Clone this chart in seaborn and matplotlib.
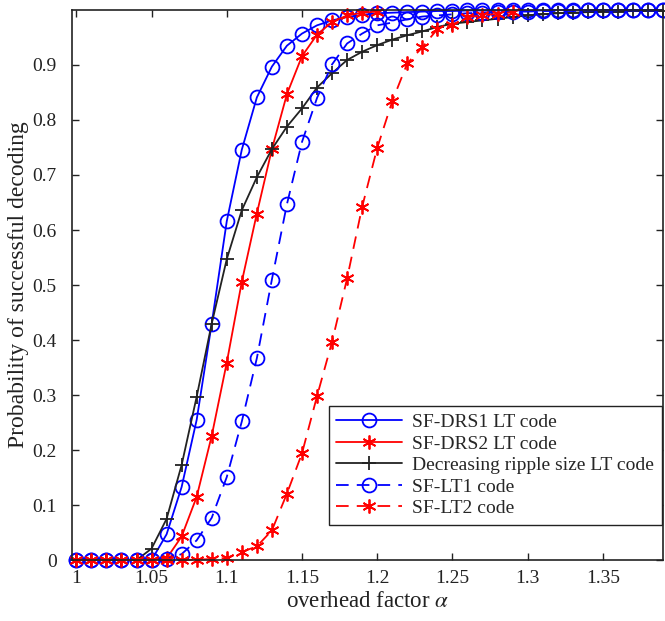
import numpy as np
import pandas as pd
import seaborn as sns
import matplotlib
matplotlib.use("Agg")
import matplotlib.pyplot as plt

# overhead factor grid (1.00 ... 1.39)
alpha = [1.00, 1.01, 1.02, 1.03, 1.04, 1.05, 1.06, 1.07, 1.08, 1.09,
         1.10, 1.11, 1.12, 1.13, 1.14, 1.15, 1.16, 1.17, 1.18, 1.19,
         1.20, 1.21, 1.22, 1.23, 1.24, 1.25, 1.26, 1.27, 1.28, 1.29,
         1.30, 1.31, 1.32, 1.33, 1.34, 1.35, 1.36, 1.37, 1.38, 1.39]

sf_drs1 = [0, 0, 0, 0, 0, 0, 0.047, 0.133, 0.255, 0.43,
           0.616, 0.746, 0.841, 0.897, 0.935, 0.957, 0.972, 0.981, 0.987, 0.991,
           0.994, 0.995, 0.996, 0.997, 0.998, 0.998, 0.999, 0.999, 0.999, 0.999,
           0.999, 0.999, 1.0, 1.0, 1.0, 1.0, 1.0, 1.0, 1.0, 1.0]

# SF-DRS2 stops at 1.20
sf_drs2 = [0, 0, 0, 0, 0, 0, 0.003, 0.043, 0.115, 0.226,
           0.359, 0.506, 0.63, 0.747, 0.847, 0.916, 0.955, 0.978, 0.99, 0.995,
           0.997]

decr_ripple = [0, 0, 0, 0, 0, 0.021, 0.075, 0.173, 0.297, 0.43,
               0.547, 0.636, 0.696, 0.747, 0.788, 0.821, 0.859, 0.885, 0.909, 0.924,
               0.936, 0.946, 0.954, 0.961, 0.969, 0.975, 0.978, 0.981, 0.984, 0.987,
               0.99, 0.992, 0.994, 0.995, 0.996, 0.997, 0.997, 0.998, 0.998, 0.998]

sf_lt1 = [0, 0, 0, 0, 0, 0, 0.002, 0.011, 0.036, 0.077,
          0.151, 0.252, 0.367, 0.51, 0.647, 0.76, 0.84, 0.901, 0.939, 0.957,
          0.972, 0.977, 0.983, 0.988, 0.99, 0.992, 0.994, 0.995, 0.996, 0.997,
          0.997, 0.998, 0.998, 0.998, 0.999, 0.999, 0.999, 0.999, 0.999, 0.999]

# SF-LT2 stops at 1.29
sf_lt2 = [0, 0, 0, 0, 0, 0, 0, 0, 0.001, 0.002,
          0.004, 0.015, 0.025, 0.054, 0.121, 0.194, 0.298, 0.397, 0.512, 0.642,
          0.749, 0.834, 0.903, 0.932, 0.965, 0.973, 0.987, 0.99, 0.993, 0.996]

labels = ["SF-DRS1 LT code", "SF-DRS2 LT code", "Decreasing ripple size LT code",
          "SF-LT1 code", "SF-LT2 code"]

sns.set_style("ticks")
plt.rcParams["font.family"] = ["Liberation Serif", "DejaVu Serif"]
plt.rcParams["mathtext.fontset"] = "stix"
plt.rcParams["xtick.direction"] = "in"
plt.rcParams["ytick.direction"] = "in"

fig = plt.figure(figsize=(6.65, 6.21), dpi=100)
ax = fig.add_axes([0.108, 0.098, 0.889, 0.886])

star = (6, 2, 0)
dash = (0, (7, 4.5))
styles = [
    (sf_drs1, "blue", "o", "-"),
    (sf_drs2, "red", star, "-"),
    (decr_ripple, "#222222", "+", "-"),
    (sf_lt1, "blue", "o", dash),
    (sf_lt2, "red", star, dash),
]

for (vals, col, mk, ls), lab in zip(styles, labels):
    df = pd.DataFrame({"alpha": alpha[:len(vals)], "p": vals})
    sns.lineplot(data=df, x="alpha", y="p", ax=ax, color=col, marker=mk,
                 linestyle=ls, linewidth=1.3, markersize=10,
                 markerfacecolor="none", markeredgecolor=col,
                 markeredgewidth=1.3, label=lab, clip_on=False)

ax.set_xlim(0.997, 1.39)
ax.set_ylim(0, 1.0)
xt = [1, 1.05, 1.1, 1.15, 1.2, 1.25, 1.3, 1.35]
ax.set_xticks(xt)
ax.set_xticklabels(["1", "1.05", "1.1", "1.15", "1.2", "1.25", "1.3", "1.35"])
yt = [0, 0.1, 0.2, 0.3, 0.4, 0.5, 0.6, 0.7, 0.8, 0.9]
ax.set_yticks(yt)
ax.set_yticklabels(["0", "0.1", "0.2", "0.3", "0.4", "0.5", "0.6", "0.7", "0.8", "0.9"])
ax.tick_params(axis="both", which="both", top=True, right=True, length=5,
               width=1.0, labelsize=14, color="#222222", labelcolor="#222222")
ax.tick_params(axis="y", pad=11)
ax.tick_params(axis="x", pad=7)
for s in ax.spines.values():
    s.set_linewidth(1.2)
    s.set_color("#222222")

ax.set_xlabel(r"overhead factor $\alpha$", fontsize=16.5, color="#222222", labelpad=3)
ax.set_ylabel("Probability of successful decoding", fontsize=17, color="#222222",
              labelpad=2)

leg = ax.legend(loc="lower right", bbox_to_anchor=(0.998, 0.064), borderaxespad=0,
                fontsize=14, frameon=True, fancybox=False, framealpha=1,
                edgecolor="#222222", handlelength=3.4, labelspacing=0.2,
                borderpad=0.4, handletextpad=0.5)
leg.get_frame().set_linewidth(1.0)

fig.savefig("out.png", dpi=100)
